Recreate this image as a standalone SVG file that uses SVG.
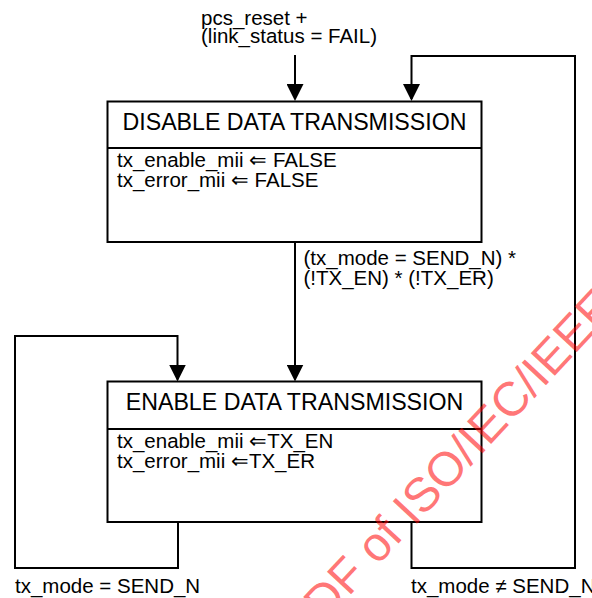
<svg xmlns="http://www.w3.org/2000/svg" width="592" height="598" viewBox="0 0 592 598">
<style>
  text { font-family: "Liberation Sans", Arial, sans-serif; fill: #000; }
  .t { font-size: 20.5px; }
  .h { font-size: 23.2px; }
  .box { fill: #fff; stroke: #000; stroke-width: 2; }
  .sep { stroke: #000; stroke-width: 2; }
  .c { fill: none; stroke: #000; stroke-width: 2; }
  .wm { font-size: 48px; fill: #ff0000; fill-opacity: 0.55; }
</style>
<defs>
  <marker id="arr" markerUnits="userSpaceOnUse" markerWidth="17" markerHeight="17" viewBox="0 0 17 17" refX="15" refY="8.5" orient="auto">
    <path d="M0,0 L17,8.5 L0,17 Z" fill="#000"/>
  </marker>
</defs>
<rect width="592" height="598" fill="#fff"/>
<g id="connectors">
  <path class="c" d="M295,55 V99" marker-end="url(#arr)"/>
  <path class="c" d="M411.5,522 V568 H575 V56 H411.5 V99" marker-end="url(#arr)"/>
  <path class="c" d="M295,242 V379.5" marker-end="url(#arr)"/>
  <path class="c" d="M178,522 V568 H15 V336 H177.5 V379.5" marker-end="url(#arr)"/>
</g>
<g id="labels">
  <text class="t" x="201" y="24.5">pcs_reset +</text>
  <text class="t" x="201" y="43">(link_status = FAIL)</text>
  <text class="t" x="303.5" y="265">(tx_mode = SEND_N) *</text>
  <text class="t" x="303.5" y="285">(!TX_EN) * (!TX_ER)</text>
  <text class="t" x="15" y="593">tx_mode = SEND_N</text>
  <text class="t" x="411" y="593">tx_mode ≠ SEND_N</text>
</g>
<g id="disable">
  <rect class="box" x="107.5" y="101.5" width="374" height="140.5"/>
  <line class="sep" x1="107.5" y1="148" x2="481.5" y2="148"/>
  <text class="h" x="294.5" y="130" text-anchor="middle">DISABLE DATA TRANSMISSION</text>
  <text class="t" x="117" y="166.5">tx_enable_mii ⇐ FALSE</text>
  <text class="t" x="117" y="186.5">tx_error_mii ⇐ FALSE</text>
</g>
<g id="enable">
  <rect class="box" x="107.5" y="381.5" width="374" height="140.5"/>
  <line class="sep" x1="107.5" y1="429" x2="481.5" y2="429"/>
  <text class="h" x="294.5" y="410" text-anchor="middle">ENABLE DATA TRANSMISSION</text>
  <text class="t" x="117" y="448">tx_enable_mii ⇐TX_EN</text>
  <text class="t" x="117" y="468">tx_error_mii ⇐TX_ER</text>
</g>
<g id="watermark">
  <text class="wm" transform="translate(303,646) rotate(-47)">PDF of ISO/IEC/IEEE</text>
</g>
</svg>
